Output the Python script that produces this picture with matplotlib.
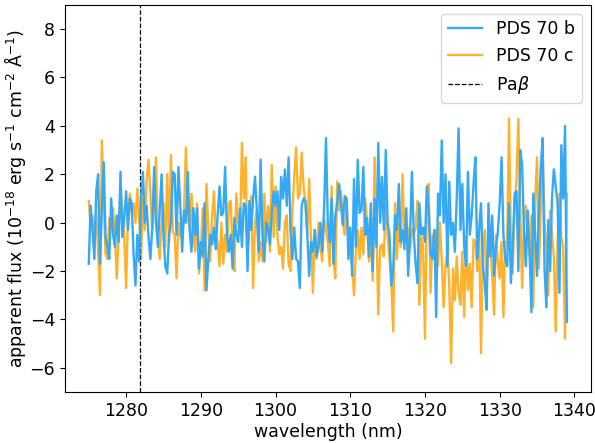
import numpy as np
import matplotlib
matplotlib.use("Agg")
import matplotlib.pyplot as plt

# wavelength grid of the extracted spectra (nm)
wl_start = 1275.0
wl_step = 0.25
pa_beta = 1281.8

# apparent flux, 1e-18 erg/s/cm2/A in 8 nm blocks
flux_b = [
    -1.7, 0.7, -0.3, -1.5, 1.3, 2.0, -1.7, 0.5, 2.5, -0.6, -1.0, -1.5, 1.0, -0.5, -1.0, 0.3,
    -0.8, 2.1, -0.6, 0.2, 1.3, -0.3, 1.0, 0.8, -1.3, -2.6, -0.5, -1.6, 1.1, 2.1, 0.0, 0.7,
    -0.6, -1.5, -0.2, 2.3, 0.0, -1.0, 0.5, 2.0, -0.5, -1.8, -2.1, -0.5, 0.0, 2.1, 2.0, -0.5,
    2.3, 0.7, -1.2, 0.5, 0.0, 2.1, -0.3, -1.2, 0.6, -0.5, 0.6, -1.9, -0.8, -1.4, 0.8, -2.8,
    -1.5, -0.5, -0.9, -0.2, -1.1, 0.3, 1.5, 0.3, 0.4, 2.3, -0.5, -1.2, -0.5, -1.9, 0.2, -0.5,
    -0.8, 0.6, -1.0, 0.8, 0.7, -2.0, 0.9, -0.3, 1.0, 1.9, 0.5, -1.2, 2.6, -0.5, -1.6, 0.0,
    -0.2, -0.9, 0.4, 1.3, 0.7, 1.3, -0.3, 1.9, 1.0, 2.2, 0.7, 2.7, -0.3, -1.5, -0.2, -1.5,
    -1.6, -2.7, 0.7, 1.0, 0.9, -0.5, -2.2, -0.8, -1.2, -0.3, -1.4, -1.0, 0.0, -1.2, 0.6, 3.5,
    0.0, -0.8, 1.0, -1.7, 0.3, 0.8, 1.6, 0.8, -0.1, 1.1, 1.0, -1.5, -0.2, -2.2, 1.8, -1.0,
    2.6, 0.4, 0.5, 2.3, -0.5, 0.2, -1.4, 0.8, -2.0, 1.0, -1.0, 3.3, 0.0, 1.9, -0.3, 3.0,
    0.0, -0.5, -2.6, -1.9, 0.3, -0.3, 1.6, -0.8, -0.3, -1.1, 0.6, -2.2, -0.5, 2.1, -0.5, -1.7,
    -2.5, 0.8, -0.5, -0.2, -0.8, 1.5, 0.5, -1.3, -1.5, -0.3, -3.9, 1.2, 0.3, 3.4, 0.0, 2.0,
    -1.8, 1.7, -0.5, 0.0, -1.2, 1.0, 3.9, -0.3, 1.6, -1.0, -1.8, 2.1, -0.5, 0.3, 1.6, 2.7,
    -1.5, -0.3, 0.8, -1.8, -2.5, -3.6, 0.8, -1.4, 0.3, -2.2, -1.0, -0.4, 0.8, 2.7, -0.5, -1.5,
    -1.8, 0.8, -2.5, -1.0, 1.2, 1.3, -2.0, 3.0, 2.4, -0.3, -1.8, 0.5, -1.2, -3.7, 1.2, -0.5,
    -2.2, 0.5, 2.3, 3.5, -1.9, -3.5, 0.1, -2.0, 1.0, 2.2, 1.5, 0.8, -2.9, 3.2, 1.0, 4.0,
    -4.1,
]
flux_c = [
    0.9, -0.2, 0.3, -0.8, 0.4, -1.2, -3.0, 3.4, 0.8, -1.3, -1.5, 0.2, -0.2, 0.6, -0.6, -2.3,
    -0.5, 1.4, 0.5, -0.6, -2.7, 0.3, 1.2, 0.4, 0.8, 0.0, 1.4, 0.2, -1.5, 1.0, -0.3, 1.8,
    2.6, 1.2, -0.3, 0.8, 2.7, -0.5, -1.5, 0.0, 0.8, -1.0, 2.0, -0.8, 2.8, -0.4, -0.5, -2.3,
    0.0, -0.5, -0.7, 0.5, 3.1, 0.5, -0.3, 1.2, -0.5, -1.2, 0.8, -2.1, -1.1, 0.6, -2.8, 1.6,
    -0.3, -1.6, 0.2, 1.3, -0.5, -0.8, -1.8, 0.0, -1.7, -0.5, -1.2, 0.8, 0.9, -1.3, -2.0, 1.2,
    0.0, -0.5, 3.3, 1.0, 2.7, -1.5, 0.0, 1.1, -2.7, 0.0, 0.5, -1.6, -0.8, -1.6, 1.2, -0.8,
    0.7, -1.2, 2.4, -0.6, 1.5, -0.5, -1.3, -1.0, -1.9, 0.0, 0.3, -1.7, -2.0, 0.5, 1.9, 3.1,
    1.0, 1.2, 2.9, 1.5, 0.8, -0.5, 1.8, -0.8, -2.9, -0.3, -1.5, 0.0, -1.0, -1.6, 0.2, -0.3,
    -0.8, -1.8, 1.5, -1.5, -2.3, 1.7, 0.5, 1.3, 0.0, -0.5, 1.0, -0.5, -1.2, -1.8, -3.0, -1.2,
    -0.3, -1.5, -0.2, -1.3, 1.0, 0.0, -1.6, -0.5, -2.4, 2.7, -0.2, -3.8, -1.0, -0.9, -1.4, 0.8,
    -0.5, -1.5, -2.5, -4.5, 0.8, -1.5, 0.0, -1.0, 2.0, -0.5, 0.0, -0.3, -1.2, -0.3, -0.5, -0.2,
    0.9, -3.4, -0.6, -1.0, -4.8, 0.8, 1.6, -2.9, -0.5, -1.3, -0.3, -1.8, 0.0, -1.6, -3.5, -1.8,
    -1.1, -2.6, -5.8, -1.9, -3.2, -1.4, -2.9, -3.4, -1.2, -3.9, -0.6, -2.8, -1.7, -3.5, -0.7, -0.8,
    -2.0, -0.3, -5.4, -1.0, -0.3, -2.9, -0.6, -1.0, -2.2, -3.8, -0.5, -1.6, -2.3, -0.8, -3.9, -0.8,
    -0.8, 4.3, -0.8, -2.1, 0.8, 1.8, 4.3, 0.5, -2.7, 0.0, 0.7, -0.5, -1.4, 0.3, -3.5, 1.0,
    2.7, -1.9, 0.5, 2.9, 0.0, -1.0, -3.0, 0.5, -0.5, -1.4, -4.5, -0.8, 1.2, -0.6, -1.0, -4.8,
    1.2,
]

wl = wl_start + wl_step * np.arange(len(flux_b))

plt.rcParams['font.size'] = 12.5
fig = plt.figure(figsize=(5.95, 4.43), dpi=100)
ax = fig.add_subplot(111)
fig.subplots_adjust(left=0.109, right=0.993, top=0.989, bottom=0.115)

ax.plot(wl, flux_b, color='#35a9f5', lw=1.7, label='PDS 70 b', zorder=3)
ax.plot(wl, flux_c, color='#fdb22e', lw=1.7, label='PDS 70 c', zorder=2)
ax.axvline(pa_beta, color='k', ls='--', lw=0.9, label=r'Pa$\beta$')

ax.set_ylim(-7, 9)
ax.set_xlabel('wavelength (nm)', labelpad=2)
ax.set_ylabel(r'apparent flux (10$^{-18}$ erg s$^{-1}$ cm$^{-2}$ $\mathrm{\AA}^{-1}$)', labelpad=1)
ax.legend(loc='upper right')

fig.savefig('out.png', dpi=100)
